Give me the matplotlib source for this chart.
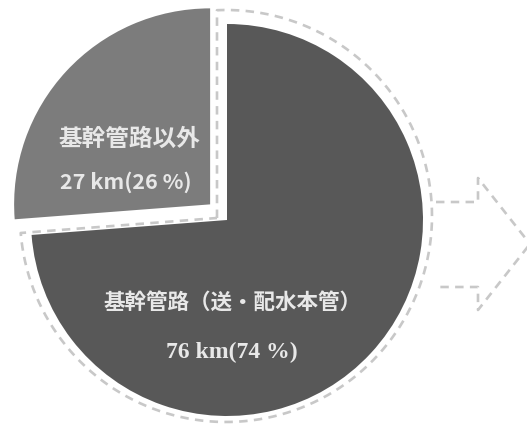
import numpy as np
import matplotlib.pyplot as plt

W, H = 527, 428

# pipeline length by category
categories = ["基幹管路以外", "基幹管路（送・配水本管）"]
lengths_km = [27, 76]
shares_pct = [26, 74]
slice_colors = ["#7c7c7c", "#585858"]
explode_px = [23, 0]

fig = plt.figure(figsize=(W / 100, H / 100), dpi=100)
ax = fig.add_axes([0, 0, 1, 1])

center = (227, H - 220)
radius = 196

wedges, _ = ax.pie(lengths_km, explode=explode_px, colors=slice_colors,
                   startangle=90, counterclock=True, center=center,
                   radius=radius, frame=True)

# dashed outline around the main slice, offset into the gap
outline_col = "#c8c8c8"
arc_c = np.array([226.0, H - 216.0])
arc_r = 206.0
corner = np.array([217.0, H - 218.0])
a_left = np.deg2rad(wedges[0].theta2)
d = np.array([np.cos(a_left), np.sin(a_left)])
p = corner - arc_c
b = p @ d
c = p @ p - arc_r ** 2
t = -b + np.sqrt(b * b - c)
left_pt = corner + t * d
top_pt = np.array([corner[0], arc_c[1] + np.sqrt(arc_r ** 2 - (corner[0] - arc_c[0]) ** 2)])
ang_top = np.arctan2(top_pt[1] - arc_c[1], top_pt[0] - arc_c[0])
ang_left = np.arctan2(left_pt[1] - arc_c[1], left_pt[0] - arc_c[0])
if ang_left > ang_top:
    ang_left -= 2 * np.pi
th = np.linspace(ang_top, ang_left, 400)
arc = arc_c + arc_r * np.c_[np.cos(th), np.sin(th)]
outline = np.vstack([corner, arc, corner])
ax.plot(outline[:, 0], outline[:, 1], color=outline_col, lw=1.9,
        dashes=(3.2, 2.4), solid_capstyle="butt")

# dashed arrow pointing right
arrow_x = [436, 478, 478, 530, 478, 478, 436]
arrow_y = [202, 202, 178, 244, 310, 287, 287]
ax.plot(arrow_x, [H - v for v in arrow_y], color=outline_col, lw=1.9,
        dashes=(3.2, 2.4), solid_capstyle="butt")

jp = ["Noto Sans CJK JP", "DejaVu Sans"]
txt_col = "#e8e8e8"

# labels
ax.text(129, H - 139, categories[0], ha="center", va="center", color=txt_col,
        fontsize=17, fontweight="bold", family=jp)
ax.text(126, H - 182, f"{lengths_km[0]} km({shares_pct[0]} %)", ha="center",
        va="center", color=txt_col, fontsize=15.5, fontweight="bold", family=jp)
ax.text(232, H - 302, categories[1], ha="center", va="center", color=txt_col,
        fontsize=15.5, fontweight="bold", family=jp)
ax.text(232, H - 352, f"{lengths_km[1]} km({shares_pct[1]} %)", ha="center",
        va="center", color=txt_col, fontsize=17, fontweight="bold",
        family=["Liberation Serif"])

ax.set_xlim(0, W)
ax.set_ylim(0, H)
ax.set_aspect("equal")
ax.axis("off")

plt.savefig("out.png", dpi=100)
